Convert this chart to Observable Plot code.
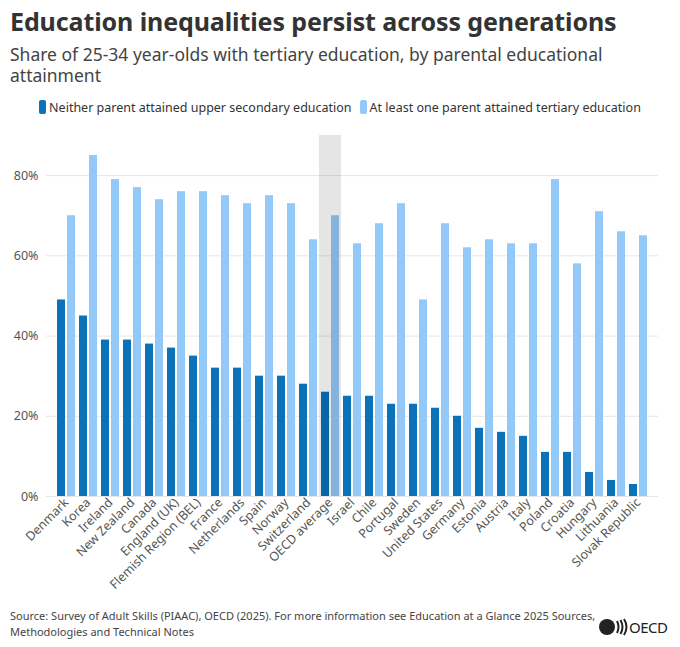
<!DOCTYPE html>
<html>
<head>
<meta charset="utf-8">
<script src="https://cdn.jsdelivr.net/npm/d3@7"></script>
<script src="https://cdn.jsdelivr.net/npm/@observablehq/plot@0.6"></script>
<style>
  html, body { margin: 0; padding: 0; background: #fff; }
  body { width: 680px; font-family: "Noto Sans", sans-serif; color: #333; position: relative; }
  .title { font-size: 25px; font-weight: 700; color: #333; margin: 4px 0 0 10px; letter-spacing: -0.1px; white-space: nowrap; }
  .subtitle { font-size: 17.5px; color: #444; margin: 6px 0 0 10px; line-height: 21px; width: 640px; }
  .legend { display: flex; justify-content: center; gap: 8px; font-size: 12.5px; color: #333; margin-top: 12px; height: 18px; align-items: center; }
  .legend span.sw { display: inline-block; width: 7px; height: 14px; border-radius: 2px; margin-right: 3px; vertical-align: -2px; }
  .footer { position: relative; margin: 6px 10px 0 10px; height: 40px; }
  .caption { font-size: 11px; color: #444; line-height: 16px; width: 600px; }
  .logo { position: absolute; right: -6px; top: 8px; }
  #chart { height: 486px; }
</style>
</head>
<body>
<div class="title">Education inequalities persist across generations</div>
<div class="subtitle">Share of 25-34 year-olds with tertiary education, by parental educational attainment</div>
<div class="legend" id="legend"></div>
<div id="chart"></div>
<div class="footer">
  <div class="caption">Source: Survey of Adult Skills (PIAAC), OECD (2025). For more information see Education at a Glance 2025 Sources, Methodologies and Technical Notes</div>
  <svg class="logo" width="78" height="22" viewBox="0 0 78 22">
    <circle cx="9" cy="11" r="8" fill="#222"/>
    <path d="M19 5 Q22 11 19 17 M22.5 4 Q26.5 11 22.5 18 M26 3 Q31 11 26 19" stroke="#222" stroke-width="2" fill="none"/>
    <text x="31" y="17" font-family="Noto Sans, sans-serif" font-size="15" fill="#222" letter-spacing="-0.5">OECD</text>
  </svg>
</div>
<script>
const countries = ["Denmark","Korea","Ireland","New Zealand","Canada","England (UK)","Flemish Region (BEL)","France","Netherlands","Spain","Norway","Switzerland","OECD average","Israel","Chile","Portugal","Sweden","United States","Germany","Estonia","Austria","Italy","Poland","Croatia","Hungary","Lithuania","Slovak Republic"];
const neitherParent = [49,45,39,39,38,37,35,32,32,30,30,28,26,25,25,23,23,22,20,17,16,15,11,11,6,4,3];
const atLeastOneParent = [70,85,79,77,74,76,76,75,73,75,73,64,70,63,68,73,49,68,62,64,63,63,79,58,71,66,65];
const seriesNames = ["Neither parent attained upper secondary education","At least one parent attained tertiary education"];
const seriesColors = ["#0b72b9", "#93c9f8"];
const yTicks = [0, 0.2, 0.4, 0.6, 0.8];
const highlight = ["OECD average"];

const rowsNeither = countries.map((c, i) => ({country: c, value: neitherParent[i] / 100}));
const rowsAtLeast = countries.map((c, i) => ({country: c, value: atLeastOneParent[i] / 100}));

const legend = document.getElementById("legend");
seriesNames.forEach((s, i) => {
  const item = document.createElement("div");
  item.innerHTML = `<span class="sw" style="background:${seriesColors[i]}"></span>${s}`;
  legend.appendChild(item);
});

const chart = Plot.plot({
  width: 680,
  height: 486,
  marginTop: 19,
  marginLeft: 46,
  marginRight: 22,
  marginBottom: 106,
  style: {fontFamily: "Noto Sans, sans-serif", fontSize: "12.5px", color: "#555"},
  x: {domain: countries, paddingInner: 0.16, paddingOuter: 0.09, label: null},
  y: {domain: [0, 0.9], label: null},
  marks: [
    Plot.gridY(yTicks, {stroke: "#e6e6e6", strokeOpacity: 1}),
    Plot.axisY(yTicks, {tickFormat: d3.format(".0%"), tickSize: 0, tickPadding: 8, label: null, fill: "#555"}),
    Plot.axisX({tickRotate: -45, tickSize: 0, tickPadding: 4, label: null, fill: "#555"}),
    Plot.barY(rowsNeither, {x: "country", y: "value", fill: seriesColors[0], insetRight: 10}),
    Plot.barY(rowsAtLeast, {x: "country", y: "value", fill: seriesColors[1], insetLeft: 10}),
    Plot.barY(highlight, {x: d => d, y: () => 0.9, fill: "#000", fillOpacity: 0.1, insetLeft: -2, insetRight: -2})
  ]
});
document.getElementById("chart").appendChild(chart);
</script>
</body>
</html>
